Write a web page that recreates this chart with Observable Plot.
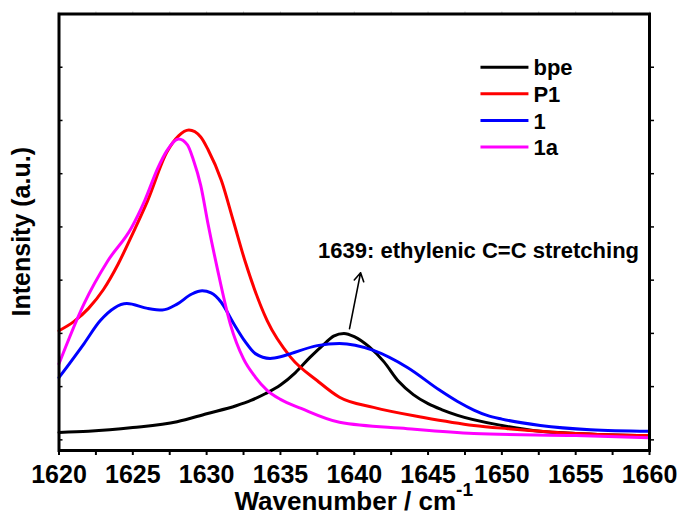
<!DOCTYPE html>
<html>
<head>
<meta charset="utf-8">
<script src="https://cdn.jsdelivr.net/npm/d3@7"></script>
<script src="https://cdn.jsdelivr.net/npm/@observablehq/plot@0.6"></script>
<style>
  html, body { margin: 0; padding: 0; background: #fff; }
  #chart { width: 681px; height: 520px; }
</style>
</head>
<body>
<div id="chart"></div>
<script>
// ---- data (intensity in arbitrary units) ----
const seriesNames = ["bpe", "P1", "1", "1a"];
const seriesColors = ["#000000", "#ff0000", "#0000ff", "#ff00ff"];

const bpeX = [1620,1622,1625,1628,1630,1632,1633,1634,1635,1636,1637,1638,1638.6,1639.3,1640,1641,1642,1643,1644,1645,1646,1647,1650,1652.6,1655,1660];
const bpeY = [0.14,0.16,0.23,0.34,0.49,0.64,0.74,0.87,1.03,1.26,1.55,1.81,1.95,2.0,1.94,1.75,1.47,1.10,0.85,0.68,0.56,0.46,0.27,0.16,0.12,0.08];

const p1X = [1620,1621,1622,1623,1624,1625,1626,1627.3,1628.1,1628.8,1629.6,1630.1,1631,1631.8,1632.6,1634.1,1635.7,1637.5,1639,1641.3,1644.7,1648.1,1650.4,1655,1660];
const p1Y = [2.05,2.22,2.47,2.82,3.30,3.88,4.49,5.40,5.71,5.82,5.69,5.45,4.87,4.12,3.36,2.24,1.55,1.11,0.80,0.61,0.42,0.27,0.21,0.12,0.08];

const oneX = [1620,1621.7,1622.8,1624.6,1626,1627,1628,1629,1629.7,1630.3,1631,1631.8,1632.6,1633.3,1634.3,1635,1635.7,1637.5,1639,1641.3,1643.6,1645.8,1647,1648.1,1649,1650,1652.6,1656,1660];
const oneY = [1.17,1.81,2.24,2.56,2.47,2.44,2.55,2.74,2.80,2.76,2.58,2.20,1.85,1.62,1.53,1.56,1.62,1.77,1.81,1.68,1.36,0.93,0.72,0.56,0.46,0.39,0.27,0.19,0.16];

const oneaX = [1620,1621.7,1623.3,1624.9,1625.8,1626.7,1627.3,1628.1,1628.7,1629.1,1629.6,1630.1,1630.7,1631.6,1632.5,1633.3,1634.1,1635,1636.4,1639,1643.6,1648.1,1655,1660];
const oneaY = [1.43,2.56,3.36,3.98,4.49,5.11,5.43,5.65,5.54,5.26,4.78,4.05,3.25,2.18,1.52,1.18,0.93,0.76,0.59,0.33,0.21,0.12,0.08,0.04];

const xTicks = [1620,1622.5,1625,1627.5,1630,1632.5,1635,1637.5,1640,1642.5,1645,1647.5,1650,1652.5,1655,1657.5,1660];
const yTicks = [0,1,2,3,4,5,6,7];

const legendY = [7.0, 6.5, 6.0, 5.5];
const legendX1 = 1648.55, legendX2 = 1651.8;

const annotationText = "1639: ethylenic C=C stretching";
const annotationPos = {x: 1637.55, y: 3.41};
const arrowPos = {x1: 1639.68, y1: 2.09, x2: 1640.43, y2: 3.14};

// ---- build table ----
const allX = [bpeX, p1X, oneX, oneaX];
const allY = [bpeY, p1Y, oneY, oneaY];
const rows = [];
seriesNames.forEach((name, i) => {
  allX[i].forEach((x, j) => rows.push({series: name, x, y: allY[i][j]}));
});
const legendRows = seriesNames.map((name, i) => ({series: name, y: legendY[i]}));

const FONT = "'Liberation Sans', Arial, Helvetica, sans-serif";
const W = 681, H = 520;
const mL = 58.5, mR = 32, mT = 13.5, mB = 70;

const svg = Plot.plot({
  width: W,
  height: H,
  marginLeft: mL,
  marginRight: mR,
  marginTop: mT,
  marginBottom: mB,
  style: {fontFamily: FONT, fontWeight: "bold", background: "#fff", color: "#000"},
  x: {domain: [1620, 1660]},
  y: {domain: [-0.2, 8.0]},
  color: {domain: seriesNames, range: seriesColors},
  marks: [
    Plot.line(rows, {x: "x", y: "y", z: "series", stroke: "series", strokeWidth: 3, curve: "monotone-x"}),
    // left inward ticks
    Plot.tickY(yTicks, {y: d => d, stroke: "#000", strokeWidth: 1.5, insetRight: W - mL - mR - 4}),
    Plot.axisY({anchor: "right", ticks: yTicks, tickSize: 4, tickFormat: () => "", strokeWidth: 1.5, label: null}),
    Plot.axisX({anchor: "bottom", ticks: xTicks, tickSize: 5, tickPadding: 10, strokeWidth: 2,
      tickFormat: d => (d % 5 === 0 ? String(d) : ""), fontSize: 25, label: null}),
    Plot.axisX({anchor: "top", ticks: xTicks, tickSize: 3, tickFormat: () => "", stroke: "#c8c8c8", label: null}),
    Plot.frame({stroke: "#000", strokeWidth: 3}),
    // legend
    Plot.link(legendRows, {x1: () => legendX1, x2: () => legendX2, y1: "y", y2: "y", stroke: "series", strokeWidth: 3}),
    Plot.text(legendRows, {x: () => legendX2, y: "y", text: "series", textAnchor: "start", dx: 5, dy: 1,
      fontSize: 22, fontWeight: "bold", fill: "#000"}),
    // annotation
    Plot.arrow([arrowPos], {x1: "x1", y1: "y1", x2: "x2", y2: "y2", stroke: "#000", strokeWidth: 1.6, headLength: 9, bend: 0}),
    Plot.text([annotationPos], {x: "x", y: "y", text: () => annotationText, textAnchor: "start", lineAnchor: "bottom",
      fontSize: 22, fontWeight: "bold", fill: "#000"})
  ]
});

const s = d3.select(svg);
// x-axis title with superscript
const xt = s.append("text")
  .attr("x", mL + (W - mL - mR) / 2)
  .attr("y", 510)
  .attr("text-anchor", "middle")
  .style("font-family", FONT)
  .style("font-weight", "bold")
  .style("font-size", "26px")
  .attr("fill", "#000");
xt.append("tspan").text("Wavenumber / cm");
xt.append("tspan").attr("dy", -14).style("font-size", "19px").text("-1");

// y-axis title
s.append("text")
  .attr("transform", `translate(30, ${mT + (H - mT - mB) / 2}) rotate(-90)`)
  .attr("text-anchor", "middle")
  .style("font-family", FONT)
  .style("font-weight", "bold")
  .style("font-size", "25px")
  .attr("fill", "#000")
  .text("Intensity (a.u.)");

document.getElementById("chart").appendChild(svg);
</script>
</body>
</html>
